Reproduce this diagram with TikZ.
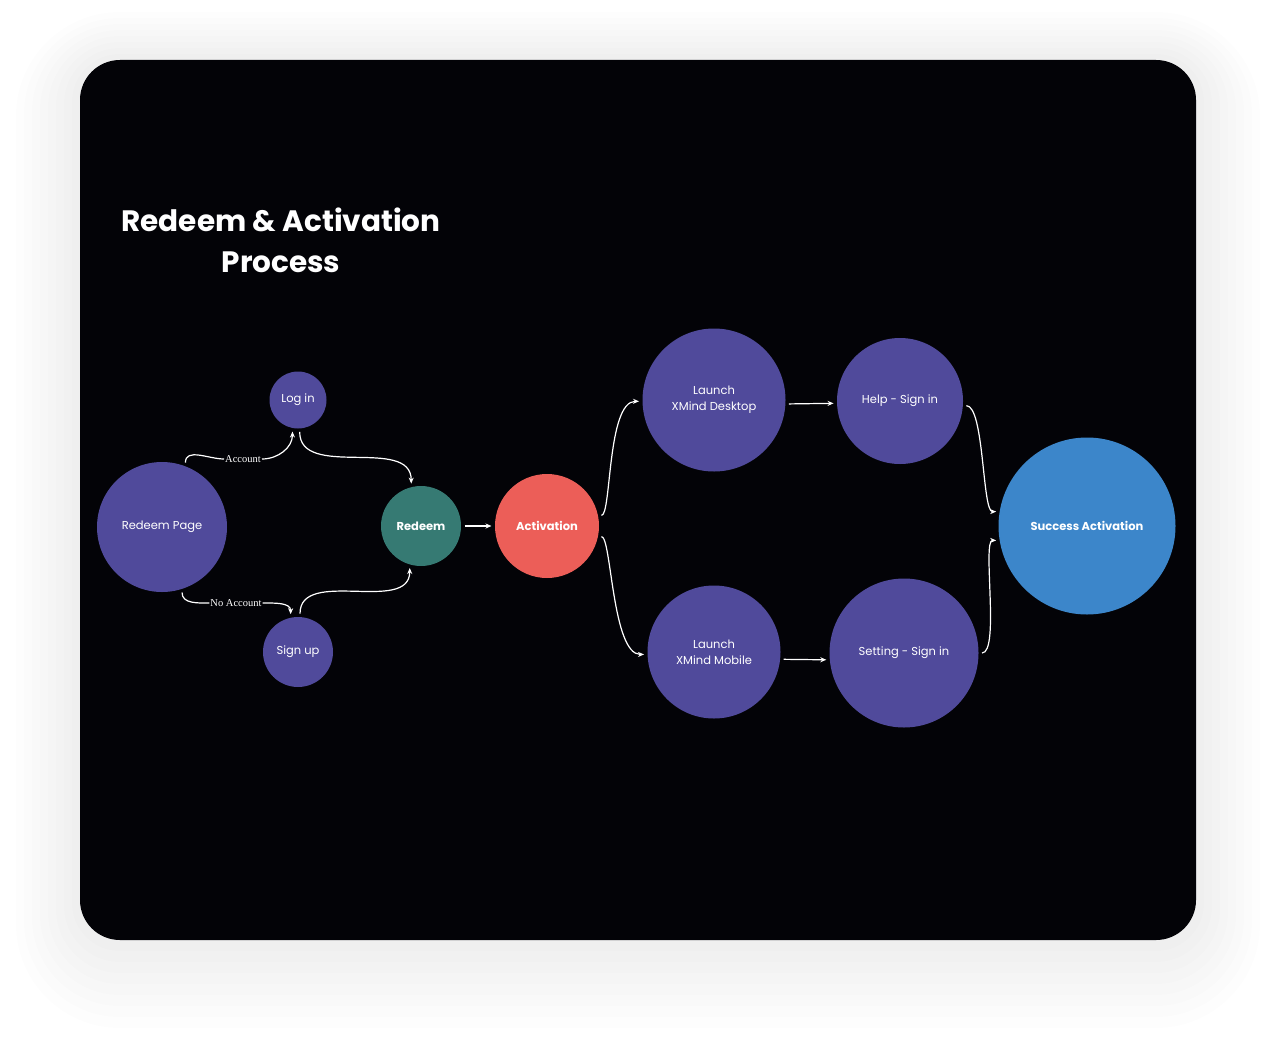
\documentclass[tikz,border=0pt]{standalone}
\usepackage{fontspec}
\setmainfont{Poppins}
\newfontfamily\lblfont{Liberation Serif}
\usetikzlibrary{arrows.meta}

\definecolor{nodepurple}{RGB}{80,74,155}
\definecolor{nodeteal}{RGB}{54,122,115}
\definecolor{nodered}{RGB}{236,94,88}
\definecolor{nodeblue}{RGB}{60,134,202}
\definecolor{bgblack}{RGB}{3,3,7}

\tikzset{
  bubble/.style={circle, inner sep=0pt, outer sep=3.5pt, text=white, align=center,
    font=\fontsize{11.5}{16}\selectfont},
  lbl/.style={fill=bgblack, text=white, inner sep=1pt, font=\lblfont\fontsize{10.5}{12}\selectfont},
  wire/.style={draw=white, line width=1.2pt},
  link/.style={wire, -{Stealth[length=6pt,width=5pt]}},
  title/.style={text=white, align=center, font=\bfseries\fontsize{29.5}{41}\selectfont}
}

\begin{document}
\begin{tikzpicture}[x=1pt,y=1pt]
  \useasboundingbox (0,0) rectangle (1276,-1041);
  \fill [ black, opacity=0.007, rounded corners=48pt ] (72,-54) rectangle (1204,-951);
  \fill [ black, opacity=0.007, rounded corners=56pt ] (64,-48) rectangle (1212,-962);
  \fill [ black, opacity=0.007, rounded corners=64pt ] (56,-42) rectangle (1220,-973);
  \fill [ black, opacity=0.007, rounded corners=72pt ] (48,-36) rectangle (1228,-984);
  \fill [ black, opacity=0.007, rounded corners=80pt ] (40,-30) rectangle (1236,-995);
  \fill [ black, opacity=0.007, rounded corners=88pt ] (32,-24) rectangle (1244,-1006);
  \fill [ black, opacity=0.007, rounded corners=96pt ] (24,-18) rectangle (1252,-1017);
  \fill [ black, opacity=0.007, rounded corners=104pt ] (16,-12) rectangle (1260,-1028);
  \fill [ bgblack, rounded corners=40pt ] (80,-60) rectangle (1196,-940);

  \node [ title ] (title) at (281,-240) {Redeem \& Activation\\Process};

  \node [ bubble, fill=nodepurple, minimum size=130pt ] (rp) at (162,-527) {Redeem Page};
  \node [ bubble, fill=nodepurple, minimum size=57pt ] (login) at (298,-400) {Log in};
  \node [ bubble, fill=nodepurple, minimum size=70pt ] (signup) at (298,-652) {Sign up};
  \node [ bubble, fill=nodeteal, minimum size=80pt ] (red) at (421,-526) {\bfseries Redeem};
  \node [ bubble, fill=nodered, minimum size=104pt ] (act) at (547,-526) {\bfseries Activation};
  \node [ bubble, fill=nodepurple, minimum size=143pt ] (desk) at (714,-400) {Launch\\XMind Desktop};
  \node [ bubble, fill=nodepurple, minimum size=126pt ] (help) at (900,-401) {Help - Sign in};
  \node [ bubble, fill=nodepurple, minimum size=133pt ] (mob) at (714,-652) {Launch\\XMind Mobile};
  \node [ bubble, fill=nodepurple, minimum size=149pt ] (set) at (904,-653) {Setting - Sign in};
  \node [ bubble, fill=nodeblue, minimum size=177pt ] (succ) at (1087,-526) {\bfseries Success Activation};

  \node [ lbl ] (acc) at (243,-459) {Account};
  \node [ lbl ] (noacc) at (236,-603) {No Account};

  \draw [ wire ] (rp.70) to [ out=90, in=180 ] (acc.west);
  \draw [ link ] (acc.east) to [ out=0, in=-90 ] (login.-100);
  \draw [ link ] (login.-87) to [ out=-90, in=90 ] (red.103);
  \draw [ wire ] (rp.-73) to [ out=-90, in=180 ] (noacc.west);
  \draw [ link ] (noacc.east) to [ out=0, in=90 ] (signup.101);
  \draw [ link ] (signup.87) to [ out=90, in=-90 ] (red.-105);
  \draw [ link ] (red) -- (act);

  \draw [ link ] (act.11) .. controls +(10,0) and +(-32,0) .. (desk.181);
  \draw [ link ] (act.-11) .. controls +(10,0) and +(-32,0) .. (mob.182);
  \draw [ link ] (desk.-3) -- (help.182);
  \draw [ link ] (mob.-6) -- (set.185);
  \draw [ link ] (help.-4) .. controls +(18,0) and +(-14,0) .. (succ.171);
  \draw [ link ] (set.east) .. controls +(18,0) and +(-14,0) .. (succ.189);
\end{tikzpicture}
\end{document}
